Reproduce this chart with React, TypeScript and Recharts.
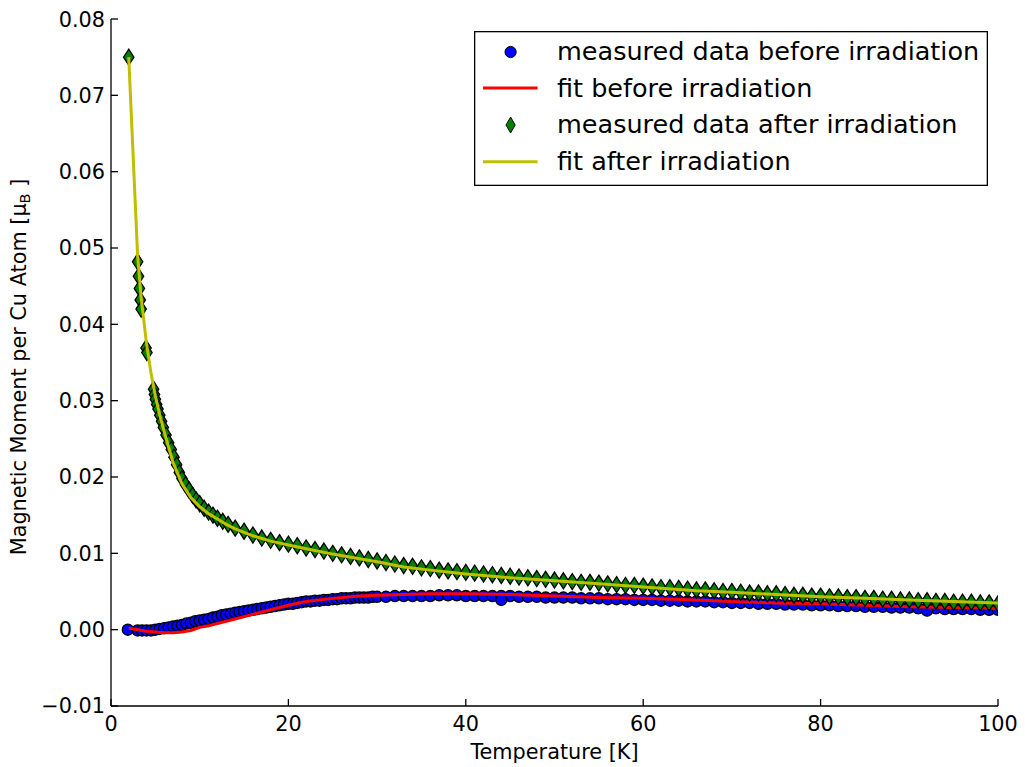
import React from 'react';
import { ComposedChart, Scatter, XAxis, YAxis, Legend } from 'recharts';

const FONT = '"DejaVu Sans", Verdana, sans-serif';

// Axis ticks
const xTicks = [0, 20, 40, 60, 80, 100];
const yTicks = [-0.01, 0, 0.01, 0.02, 0.03, 0.04, 0.05, 0.06, 0.07, 0.08];

// Measured data before irradiation
const beforeTemps = [
  1.9, 3.0, 3.5, 4.0, 4.5, 5.0, 5.5, 6.0, 6.5, 7.0, 7.5, 8.0, 8.5, 9.0, 9.5,
  10, 10.5, 11, 11.5, 12, 12.5, 13, 13.5, 14, 14.5, 15, 15.5, 16, 16.5, 17, 17.5, 18, 18.5, 19, 19.5,
  20, 20.5, 21, 21.5, 22, 22.5, 23, 23.5, 24, 24.5, 25, 25.5, 26, 26.5, 27, 27.5, 28, 28.5, 29, 29.5, 30,
  31, 32, 33, 34, 35, 36, 37, 38, 39, 40, 41, 42, 43, 44, 45, 46, 47, 48, 49, 50,
  51, 52, 53, 54, 55, 56, 57, 58, 59, 60, 61, 62, 63, 64, 65, 66, 67, 68, 69, 70,
  71, 72, 73, 74, 75, 76, 77, 78, 79, 80, 81, 82, 83, 84, 85, 86, 87, 88, 89, 90,
  91, 92, 93, 94, 95, 96, 97, 98, 99, 100, 44.0, 92.0,
];
const beforeMoments = [
  0.0000, -0.0001, -0.0001, -0.0001, -0.0001, 0.0000, 0.0001, 0.0002, 0.0003, 0.0004, 0.0005, 0.0006, 0.0008, 0.0009, 0.0011,
  0.0012, 0.0013, 0.0014, 0.0016, 0.0017, 0.0019, 0.0020, 0.0021, 0.0022, 0.0023, 0.0024, 0.0025, 0.0026, 0.0027, 0.0028, 0.0029, 0.0030, 0.0031, 0.0032, 0.0033,
  0.0034, 0.0034, 0.0035, 0.0036, 0.0037, 0.0037, 0.0038, 0.0038, 0.0039, 0.0039, 0.0040, 0.0040, 0.0041, 0.0041, 0.0041, 0.0042, 0.0042, 0.0042, 0.0042, 0.0043, 0.0043,
  0.0043, 0.0044, 0.0044, 0.0044, 0.0044, 0.0044, 0.0045, 0.0045, 0.0045, 0.0044, 0.0044, 0.0044, 0.0044, 0.0044, 0.0044, 0.0043, 0.0043, 0.0043, 0.0042, 0.0042,
  0.0042, 0.0042, 0.0041, 0.0041, 0.0041, 0.0040, 0.0040, 0.0040, 0.0039, 0.0039, 0.0039, 0.0038, 0.0038, 0.0038, 0.0037, 0.0037, 0.0037, 0.0036, 0.0036, 0.0035,
  0.0035, 0.0035, 0.0034, 0.0034, 0.0034, 0.0033, 0.0033, 0.0033, 0.0032, 0.0032, 0.0032, 0.0031, 0.0031, 0.0031, 0.0030, 0.0030, 0.0030, 0.0029, 0.0029, 0.0029,
  0.0028, 0.0028, 0.0028, 0.0027, 0.0027, 0.0027, 0.0027, 0.0026, 0.0026, 0.0026, 0.0039, 0.0025,
];

// Fit before irradiation
const fitBeforeTemps = [2, 3, 4, 5, 6, 7, 8, 9, 10, 11, 12, 13, 14, 16, 18, 20, 22, 25, 28, 30, 33, 36, 40, 45, 50, 55, 60, 66, 70, 75, 80, 85, 90, 95, 100];
const fitBeforeMoments = [
  0.0002, 0.0000, -0.0002, -0.0003, -0.0004, -0.0004, -0.0003, -0.0001, 0.0003, 0.0005, 0.0008, 0.0011, 0.0014, 0.0020, 0.0026, 0.0032, 0.0037, 0.0041, 0.0044, 0.0045,
  0.0046, 0.0047, 0.0047, 0.0046, 0.0044, 0.0042, 0.0041, 0.0039, 0.0037, 0.0035, 0.0034, 0.0032, 0.0030, 0.0029, 0.0028,
];

// Measured data after irradiation
const afterTemps = [
  2.0, 3.0, 3.1, 3.2, 3.3, 3.4, 3.95, 4.05, 4.8, 4.9, 5.0, 5.15, 5.3, 5.5, 5.7, 5.9, 6.2, 6.5, 6.8, 7.1, 7.4, 7.7,
  8.0, 8.4, 8.8, 9.2, 9.6, 10.0, 10.5, 11.0, 11.5, 12.0, 12.6, 13.2, 14,
  15, 16, 17, 18, 19, 20, 21, 22, 23, 24, 25, 26, 27, 28, 29, 30,
  31, 32, 33, 34, 35, 36, 37, 38, 39, 40, 41, 42, 43, 44, 45, 46, 47, 48, 49, 50,
  51, 52, 53, 54, 55, 56, 57, 58, 59, 60, 61, 62, 63, 64, 65, 66, 67, 68, 69, 70,
  71, 72, 73, 74, 75, 76, 77, 78, 79, 80, 81, 82, 83, 84, 85, 86, 87, 88, 89, 90,
  91, 92, 93, 94, 95, 96, 97, 98, 99, 100,
];
const afterMoments = [
  0.0750, 0.0482, 0.0463, 0.0447, 0.0432, 0.0420, 0.0369, 0.0363, 0.0315, 0.0308, 0.0302, 0.0295, 0.0289, 0.0281, 0.0273, 0.0265, 0.0255, 0.0245, 0.0236, 0.0226, 0.0216, 0.0206,
  0.0198, 0.0190, 0.0183, 0.0176, 0.0170, 0.0165, 0.0159, 0.0154, 0.0150, 0.0146, 0.0142, 0.0138, 0.0133,
  0.0129, 0.0124, 0.0120, 0.0117, 0.0114, 0.0112, 0.0110, 0.0107, 0.0105, 0.0103, 0.0100, 0.0098, 0.0096, 0.0094, 0.0092, 0.0090,
  0.0088, 0.0086, 0.0084, 0.0083, 0.0081, 0.0080, 0.0078, 0.0077, 0.0076, 0.0075, 0.0074, 0.0073, 0.0072, 0.0071, 0.0070, 0.0069, 0.0068, 0.0067, 0.0066, 0.0065,
  0.0064, 0.0063, 0.0062, 0.0062, 0.0061, 0.0060, 0.0059, 0.0058, 0.0058, 0.0057, 0.0056, 0.0055, 0.0055, 0.0054, 0.0053, 0.0052, 0.0052, 0.0051, 0.0050, 0.0050,
  0.0049, 0.0048, 0.0048, 0.0047, 0.0047, 0.0046, 0.0045, 0.0045, 0.0044, 0.0044, 0.0043, 0.0043, 0.0042, 0.0042, 0.0041, 0.0041, 0.0040, 0.0040, 0.0039, 0.0039,
  0.0038, 0.0038, 0.0037, 0.0037, 0.0036, 0.0036, 0.0036, 0.0035, 0.0035, 0.0034,
];

// Fit after irradiation
const fitAfterTemps = [2, 3, 3.4, 4, 4.5, 5, 5.5, 6, 7, 8, 9, 10, 11, 12, 13, 14, 16, 18, 20, 22, 25, 28, 30, 33, 36, 40, 45, 50, 55, 60, 66, 70, 75, 80, 85, 90, 95, 100];
const fitAfterMoments = [
  0.0750, 0.0490, 0.0435, 0.0375, 0.0337, 0.0306, 0.0281, 0.0259, 0.0219, 0.0191, 0.0173, 0.0161, 0.0152, 0.0145, 0.0138, 0.0132, 0.0123, 0.0116, 0.0111, 0.0106,
  0.0099, 0.0093, 0.0089, 0.0082, 0.0078, 0.0073, 0.0068, 0.0064, 0.0060, 0.0056, 0.0051, 0.0049, 0.0046, 0.0043, 0.0041, 0.0039, 0.0037, 0.0035,
];

const legendLabels = [
  'measured data before irradiation',
  'fit before irradiation',
  'measured data after irradiation',
  'fit after irradiation',
];

const toPoints = (ts: number[], ms: number[]) => ts.map((t, i) => ({ T: t, M: ms[i] }));

const beforeData = toPoints(beforeTemps, beforeMoments);
const fitBeforeData = toPoints(fitBeforeTemps, fitBeforeMoments);
const afterData = toPoints(afterTemps, afterMoments);
const fitAfterData = toPoints(fitAfterTemps, fitAfterMoments);

const BLUE = '#0000ff';
const RED = '#ff0000';
const GREEN = '#008000';
const OLIVE = '#bfbf00';

const DW = 5.2;
const DH = 8;

const CircleMark = (props: any) => {
  const { cx, cy } = props;
  if (cx == null || cy == null) return <g />;
  return <circle cx={cx} cy={cy} r={5.6} fill={BLUE} stroke="#000" strokeWidth={1.3} />;
};

const DiamondMark = (props: any) => {
  const { cx, cy } = props;
  if (cx == null || cy == null) return <g />;
  return (
    <path
      d={`M${cx},${cy - DH} L${cx + DW},${cy} L${cx},${cy + DH} L${cx - DW},${cy} Z`}
      fill={GREEN}
      stroke="#000"
      strokeWidth={1.3}
    />
  );
};

const NoMark = () => <g />;

const fmtY = (v: number) => {
  const s = Math.abs(v).toFixed(2);
  return v < -1e-9 ? '\u2212' + s : s;
};

const tickStyle = { fill: '#000', fontSize: 20.8, fontFamily: FONT };

const YLabel = () => {
  const x = 18;
  const y = 359;
  return (
    <text
      x={x}
      y={y}
      transform={`rotate(-90, ${x}, ${y})`}
      textAnchor="middle"
      fontFamily={FONT}
      fontSize={20.8}
      fill="#000"
    >
      Magnetic Moment per Cu Atom [μ
      <tspan fontSize={14.5} dy={4}>B</tspan>
      <tspan dy={-4}> ]</tspan>
    </text>
  );
};

const XLabel = () => (
  <text x={546.5} y={751} textAnchor="middle" fontFamily={FONT} fontSize={20.8} fill="#000">
    Temperature [K]
  </text>
);

const LegendBox = () => {
  const textX = 83;
  const baselines = [29, 65.7, 102.3, 139];
  const iconY = [21, 57, 94, 130.7];
  const iconX = 36.6;
  return (
    <svg width={514} height={155} style={{ display: 'block' }}>
      <rect x={0.65} y={0.65} width={512.7} height={153.7} fill="#fff" stroke="#000" strokeWidth={1.3} />
      <circle cx={iconX} cy={iconY[0]} r={5.6} fill={BLUE} stroke="#000" strokeWidth={1} />
      <line x1={9} x2={63.6} y1={iconY[1]} y2={iconY[1]} stroke={RED} strokeWidth={3} />
      <path
        d={`M${iconX},${iconY[2] - 8} L${iconX + 4.6},${iconY[2]} L${iconX},${iconY[2] + 8} L${iconX - 4.6},${iconY[2]} Z`}
        fill={GREEN}
        stroke="#000"
        strokeWidth={0.9}
      />
      <line x1={9} x2={63.6} y1={iconY[3]} y2={iconY[3]} stroke={OLIVE} strokeWidth={3} />
      {legendLabels.map((l, i) => (
        <text key={l} x={textX} y={baselines[i]} fontFamily={FONT} fontSize={25.5} fill="#000">
          {l}
        </text>
      ))}
    </svg>
  );
};

const EmptyTick = () => <g />;

export default function App() {
  return (
    <div style={{ width: 1017, height: 759, position: 'relative', background: '#fff' }}>
      <ComposedChart
        width={1017}
        height={759}
        margin={{ top: 11, right: 27, bottom: 0, left: 0 }}
        style={{ background: '#fff' }}
      >
        <XAxis
          xAxisId="bottom"
          dataKey="T"
          type="number"
          domain={[0, 100]}
          ticks={xTicks}
          allowDataOverflow
          orientation="bottom"
          height={61}
          axisLine={{ stroke: '#000', strokeWidth: 1.3 }}
          tickLine={{ stroke: '#000', strokeWidth: 1.3 }}
          tickSize={-7}
          tickMargin={17}
          tick={tickStyle}
          label={<XLabel />}
        />
        <XAxis
          xAxisId="top"
          dataKey="T"
          type="number"
          domain={[0, 100]}
          ticks={xTicks}
          allowDataOverflow
          orientation="top"
          height={0}
          axisLine={{ stroke: '#000', strokeWidth: 1.3 }}
          tickLine={{ stroke: '#000', strokeWidth: 1.3 }}
          tickSize={-7}
          tick={<EmptyTick />}
        />
        <YAxis
          yAxisId="left"
          dataKey="M"
          type="number"
          domain={[-0.01, 0.08]}
          ticks={yTicks}
          allowDataOverflow
          orientation="left"
          width={103}
          axisLine={{ stroke: '#000', strokeWidth: 1.3 }}
          tickLine={{ stroke: '#000', strokeWidth: 1.3 }}
          tickSize={-7}
          tickMargin={13}
          tick={tickStyle}
          tickFormatter={fmtY}
          label={<YLabel />}
        />
        <YAxis
          yAxisId="right"
          dataKey="M"
          type="number"
          domain={[-0.01, 0.08]}
          ticks={yTicks}
          allowDataOverflow
          orientation="right"
          width={0}
          axisLine={{ stroke: '#000', strokeWidth: 1.3 }}
          tickLine={{ stroke: '#000', strokeWidth: 1.3 }}
          tickSize={-7}
          tick={<EmptyTick />}
        />
        <Scatter
          name="measured data before irradiation"
          data={beforeData}
          dataKey="M"
          xAxisId="bottom"
          yAxisId="left"
          shape={<CircleMark />}
          isAnimationActive={false}
        />
        <Scatter
          name="fit before irradiation"
          data={fitBeforeData}
          dataKey="M"
          xAxisId="bottom"
          yAxisId="left"
          line={{ stroke: RED, strokeWidth: 3, fill: 'none' }}
          lineType="joint"
          shape={<NoMark />}
          isAnimationActive={false}
        />
        <Scatter
          name="measured data after irradiation"
          data={afterData}
          dataKey="M"
          xAxisId="bottom"
          yAxisId="left"
          shape={<DiamondMark />}
          isAnimationActive={false}
        />
        <Scatter
          name="fit after irradiation"
          data={fitAfterData}
          dataKey="M"
          xAxisId="bottom"
          yAxisId="left"
          line={{ stroke: OLIVE, strokeWidth: 3, fill: 'none' }}
          lineType="joint"
          shape={<NoMark />}
          isAnimationActive={false}
        />
        <Legend
          layout="vertical"
          align="center"
          verticalAlign="middle"
          content={<LegendBox />}
          wrapperStyle={{ position: 'absolute', left: 466, top: 23, width: 514, height: 155 }}
        />
      </ComposedChart>
    </div>
  );
}
